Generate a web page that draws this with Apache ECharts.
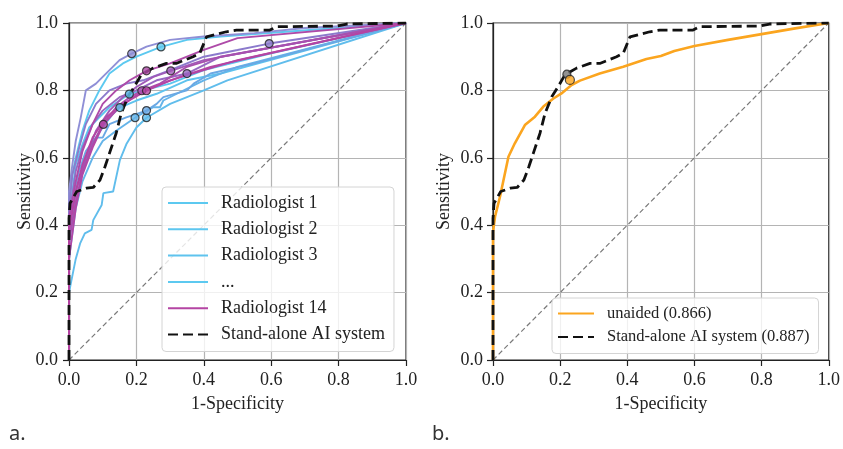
<!DOCTYPE html>
<html>
<head>
<meta charset="utf-8">
<title>ROC curves</title>
<script src="https://cdn.jsdelivr.net/npm/echarts@6/dist/echarts.min.js"></script>
<style>
  html, body { margin: 0; padding: 0; background: #fff; }
  #rocChart { width: 843px; height: 449px; }
</style>
</head>
<body>
<div id="rocChart"></div>
<script>
// axis ticks
const tickValues = [0.0, 0.2, 0.4, 0.6, 0.8, 1.0];
const tickLabels = ['0.0', '0.2', '0.4', '0.6', '0.8', '1.0'];

// panel a: radiologist ROC curves [1-specificity, sensitivity]
const r1 = [[0,0],[0,0.45],[0.01,0.55],[0.02,0.6],[0.04,0.68],[0.06,0.74],[0.09,0.8],[0.12,0.85],[0.16,0.88],[0.2,0.9],[0.273,0.929],[0.35,0.95],[0.45,0.96],[1,1]];
const r2 = [[0,0],[0,0.4],[0.01,0.5],[0.02,0.58],[0.04,0.64],[0.06,0.69],[0.09,0.72],[0.12,0.75],[0.15,0.77],[0.179,0.789],[0.22,0.8],[0.3,0.82],[0.4,0.86],[0.6,0.91],[1,1]];
const r3 = [[0,0],[0,0.35],[0.02,0.5],[0.04,0.57],[0.06,0.62],[0.08,0.66],[0.1,0.69],[0.13,0.73],[0.151,0.749],[0.2,0.77],[0.26,0.79],[0.35,0.83],[0.45,0.85],[1,1]];
const r4 = [[0,0],[0,0.2],[0.02,0.3],[0.033,0.346],[0.047,0.376],[0.067,0.386],[0.072,0.415],[0.097,0.46],[0.102,0.495],[0.131,0.5],[0.151,0.593],[0.17,0.64],[0.2,0.69],[0.23,0.719],[0.3,0.76],[0.4,0.8],[0.47,0.83],[1,1]];
const r5 = [[0,0],[0,0.3],[0.02,0.45],[0.04,0.53],[0.07,0.6],[0.1,0.65],[0.14,0.68],[0.196,0.719],[0.25,0.75],[0.27,0.75],[0.28,0.77],[0.32,0.79],[0.4,0.83],[0.5,0.87],[1,1]];
const r6 = [[0,0],[0,0.38],[0.01,0.48],[0.03,0.56],[0.05,0.62],[0.08,0.66],[0.1,0.66],[0.12,0.7],[0.17,0.72],[0.23,0.74],[0.26,0.76],[0.28,0.78],[0.35,0.8],[0.37,0.82],[0.42,0.85],[0.55,0.88],[1,1]];
const r7 = [[0,0],[0,0.5],[0.01,0.58],[0.02,0.65],[0.035,0.72],[0.05,0.8],[0.08,0.82],[0.1,0.84],[0.13,0.87],[0.15,0.89],[0.186,0.909],[0.23,0.93],[0.3,0.95],[0.4,0.96],[0.55,0.97],[0.7,0.985],[1,1]];
const r8 = [[0,0],[0,0.45],[0.01,0.55],[0.03,0.63],[0.05,0.7],[0.08,0.76],[0.12,0.8],[0.17,0.82],[0.22,0.83],[0.3,0.86],[0.4,0.9],[0.5,0.92],[0.594,0.939],[1,1]];
const r9 = [[0,0],[0,0.42],[0.02,0.56],[0.04,0.63],[0.07,0.7],[0.1,0.74],[0.15,0.78],[0.2,0.8],[0.26,0.83],[0.35,0.85],[0.45,0.9],[1,1]];
const r10 = [[0,0],[0,0.4],[0.02,0.5],[0.05,0.6],[0.08,0.68],[0.12,0.74],[0.16,0.78],[0.2,0.81],[0.25,0.84],[0.302,0.858],[0.4,0.89],[1,1]];
const r11 = [[0,0],[0,0.35],[0.02,0.47],[0.04,0.56],[0.07,0.64],[0.1,0.7],[0.14,0.75],[0.18,0.78],[0.216,0.799],[0.27,0.82],[0.35,0.87],[0.45,0.9],[1,1]];
const r12 = [[0,0],[0,0.42],[0.02,0.53],[0.04,0.62],[0.07,0.7],[0.1,0.76],[0.14,0.8],[0.18,0.83],[0.23,0.858],[0.3,0.88],[0.4,0.92],[0.5,0.955],[1,1]];
const r13 = [[0,0],[0,0.3],[0.02,0.45],[0.04,0.55],[0.07,0.63],[0.102,0.699],[0.14,0.74],[0.19,0.78],[0.25,0.81],[0.33,0.84],[0.42,0.87],[0.55,0.9],[1,1]];
const r14 = [[0,0],[0,0.38],[0.02,0.5],[0.04,0.58],[0.07,0.66],[0.11,0.72],[0.16,0.76],[0.23,0.799],[0.3,0.83],[0.4,0.86],[0.5,0.89],[1,1]];
const radiologistCurves = [r1, r2, r3, r4, r5, r6, r7, r8, r9, r10, r11, r12, r13, r14];

// operating points of each radiologist
const opX = [0.273, 0.179, 0.151, 0.23, 0.196, 0.23, 0.186, 0.594, 0.35, 0.302, 0.216, 0.23, 0.102, 0.23];
const opY = [0.929, 0.789, 0.749, 0.719, 0.719, 0.74, 0.909, 0.939, 0.85, 0.858, 0.799, 0.858, 0.699, 0.799];

// stand-alone AI system (both panels)
const aiCurve = [[0,0],[0,0.42],[0.003,0.465],[0.023,0.5],[0.052,0.51],[0.072,0.512],[0.092,0.534],[0.107,0.574],[0.12,0.613],[0.14,0.673],[0.155,0.732],[0.175,0.781],[0.194,0.811],[0.214,0.846],[0.249,0.866],[0.289,0.88],[0.318,0.88],[0.368,0.9],[0.388,0.91],[0.408,0.959],[0.467,0.974],[0.497,0.979],[0.596,0.979],[0.616,0.989],[0.795,0.991],[0.824,0.997],[1,1]];

// panel b: unaided reader average
const unaidedCurve = [[0,0],[0,0.38],[0.006,0.425],[0.021,0.485],[0.046,0.603],[0.065,0.643],[0.095,0.697],[0.125,0.722],[0.15,0.752],[0.18,0.776],[0.204,0.791],[0.234,0.816],[0.259,0.829],[0.318,0.85],[0.388,0.87],[0.457,0.893],[0.5,0.902],[0.54,0.917],[0.6,0.932],[0.7,0.95],[0.8,0.967],[0.9,0.984],[1,1]];
const aidedPoint = [0.22, 0.848];
const unaidedPoint = [0.229, 0.831];

const chanceLine = [[0,0],[1,1]];

const palette = ['#5cc9f0','#5dc6ef','#5ec3ee','#60bdec','#64b4e9','#6aa8e4','#8f8fd6',
                 '#8b7acc','#9768c2','#a05ab8','#a850ae','#ae4aa8','#b247a6','#b445a3'];

const serif = "'Liberation Serif', 'Times New Roman', serif";

function makeAxis(idx, isX) {
    const ax = {
        type: 'value',
        gridIndex: idx,
        min: 0,
        max: 1,
        interval: 0.2,
        name: isX ? '1-Specificity' : 'Sensitivity',
        nameLocation: 'middle',
        nameGap: isX ? 35 : (idx === 0 ? 35 : 40),
        nameMoveOverlap: false,
        nameTextStyle: { fontFamily: serif, fontSize: 18, color: '#222' },
        axisLine: { show: true, onZero: false, lineStyle: { color: '#222', width: 1.2 } },
        axisTick: { show: true, inside: false, length: 6, lineStyle: { color: '#222', width: 1.2 } },
        axisLabel: {
            fontFamily: serif, fontSize: 18, color: '#222', margin: isX ? 11 : (idx === 0 ? 11 : 10),
            formatter: function (v) {
                const i = tickValues.findIndex(t => Math.abs(t - v) < 1e-6);
                return i >= 0 ? tickLabels[i] : '';
            }
        },
        splitLine: { show: true, lineStyle: { color: '#b4b4b4', width: 1.2 } }
    };
    return ax;
}

document.addEventListener("DOMContentLoaded", () => {
    const series = [];

    series.push({
        name: 'chanceA', type: 'line', xAxisIndex: 0, yAxisIndex: 0, data: chanceLine,
        symbol: 'none', silent: true,
        lineStyle: { color: '#7a7a7a', width: 1.2, type: [5, 3] }, z: 1
    });

    radiologistCurves.forEach(function (curve, i) {
        series.push({
            name: 'Radiologist ' + (i + 1),
            type: 'line', xAxisIndex: 0, yAxisIndex: 0,
            data: curve, symbol: 'none',
            lineStyle: { color: palette[i], width: 1.9 },
            itemStyle: { color: palette[i] },
            z: 2
        });
    });

    series.push({
        name: '...', type: 'line', xAxisIndex: 0, yAxisIndex: 0, data: [], symbol: 'none',
        lineStyle: { color: palette[0], width: 1.9 }, itemStyle: { color: palette[0] }
    });

    series.push({
        name: 'Stand-alone AI system', type: 'line', xAxisIndex: 0, yAxisIndex: 0,
        data: aiCurve, symbol: 'none',
        lineStyle: { color: '#111', width: 2.8, type: [10, 5] },
        itemStyle: { color: '#111' }, z: 3
    });

    opX.forEach(function (x, i) {
        series.push({
            name: 'op' + (i + 1), type: 'scatter', xAxisIndex: 0, yAxisIndex: 0,
            data: [[x, opY[i]]], symbol: 'circle', symbolSize: 8,
            itemStyle: { color: palette[i], borderColor: '#222', borderWidth: 1.2 },
            z: 4
        });
    });

    // panel b
    series.push({
        name: 'chanceB', type: 'line', xAxisIndex: 1, yAxisIndex: 1, data: chanceLine,
        symbol: 'none', silent: true,
        lineStyle: { color: '#7a7a7a', width: 1.2, type: [5, 3] }, z: 1
    });
    series.push({
        name: 'unaided (0.866)', type: 'line', xAxisIndex: 1, yAxisIndex: 1,
        data: unaidedCurve, symbol: 'none',
        lineStyle: { color: '#fba51f', width: 2.6 }, itemStyle: { color: '#fba51f' }, z: 2
    });
    series.push({
        name: 'Stand-alone AI system (0.887)', type: 'line', xAxisIndex: 1, yAxisIndex: 1,
        data: aiCurve, symbol: 'none',
        lineStyle: { color: '#111', width: 2.8, type: [10, 5] },
        itemStyle: { color: '#111' }, z: 3
    });
    series.push({
        name: 'aided', type: 'scatter', xAxisIndex: 1, yAxisIndex: 1,
        data: [aidedPoint], symbol: 'circle', symbolSize: 8,
        itemStyle: { color: '#777', borderColor: '#222', borderWidth: 1.2 }, z: 4
    });
    series.push({
        name: 'unaidedPt', type: 'scatter', xAxisIndex: 1, yAxisIndex: 1,
        data: [unaidedPoint], symbol: 'circle', symbolSize: 9,
        itemStyle: { color: '#fba51f', borderColor: '#222', borderWidth: 1.2 }, z: 5
    });

    echarts.init(document.querySelector("#rocChart")).setOption({
        animation: false,
        backgroundColor: '#fff',
        textStyle: { fontFamily: serif },
        grid: [
            { left: 69, top: 23, width: 337, height: 337, show: true, borderColor: '#222', borderWidth: 1.2 },
            { left: 493, top: 23, width: 336, height: 337, show: true, borderColor: '#222', borderWidth: 1.2 }
        ],
        xAxis: [makeAxis(0, true), makeAxis(1, true)],
        yAxis: [makeAxis(0, false), makeAxis(1, false)],
        legend: [
            {
                data: ['Radiologist 1', 'Radiologist 2', 'Radiologist 3', '...', 'Radiologist 14', 'Stand-alone AI system'],
                orient: 'vertical', left: 162, top: 187,
                padding: [7, 9, 8, 5],
                itemWidth: 40, itemHeight: 14, itemGap: 8.3,
                selectedMode: false,
                itemStyle: { opacity: 0 },
                backgroundColor: 'rgba(255,255,255,0.8)',
                borderColor: '#d4d4d4', borderWidth: 1, borderRadius: 4,
                textStyle: { fontFamily: serif, fontSize: 18, lineHeight: 18, color: '#222', padding: [0, 0, 0, 8] }
            },
            {
                data: ['unaided (0.866)', 'Stand-alone AI system (0.887)'],
                orient: 'vertical', left: 552, top: 298,
                padding: [7, 9, 8, 5],
                itemWidth: 36, itemHeight: 13, itemGap: 6.5,
                selectedMode: false,
                itemStyle: { opacity: 0 },
                backgroundColor: 'rgba(255,255,255,0.8)',
                borderColor: '#d4d4d4', borderWidth: 1, borderRadius: 4,
                textStyle: { fontFamily: serif, fontSize: 16.5, lineHeight: 16.5, color: '#222', padding: [0, 0, 0, 8] }
            }
        ],
        graphic: [
            { type: 'text', left: 9, top: 424, style: { text: 'a.', font: '20px "Noto Sans"', fill: '#333' } },
            { type: 'text', left: 432, top: 424, style: { text: 'b.', font: '20px "Noto Sans"', fill: '#333' } }
        ],
        series: series
    });
});
</script>
</body>
</html>
